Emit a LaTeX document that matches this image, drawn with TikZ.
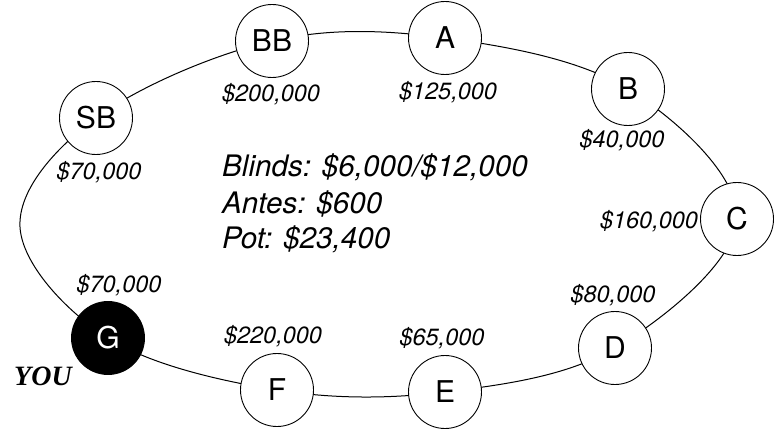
\documentclass[tikz,border=0pt]{standalone}
\usepackage{fontspec}
\setmainfont{TeX Gyre Heros}
\newfontfamily\timesfont{Liberation Serif}
\usetikzlibrary{backgrounds}
\begin{document}
\begin{tikzpicture}[x=1pt,y=-1pt,
  seat/.style={circle,draw,fill=white,minimum size=73pt,inner sep=0pt,line width=0.9pt,font=\fontsize{30}{30}\selectfont},
  youseat/.style={seat,fill=black,text=white},
  money/.style={anchor=base,inner sep=0pt,font=\fontsize{23.5}{24}\selectfont\itshape},
  info/.style={anchor=base west,inner sep=0pt,font=\fontsize{29.6}{30}\selectfont\itshape},
  youlabel/.style={anchor=base,inner sep=0pt,font=\fontsize{28}{30}\selectfont\timesfont\bfseries\itshape},
  ring/.style={line width=1pt}]
\useasboundingbox (0,0) rectangle (775,430);
% seats
\node[seat] (BB) at (272,41) {BB};
\node[seat] (A) at (445,38) {A};
\node[seat] (B) at (628,89) {B};
\node[seat] (C) at (737,219) {C};
\node[seat] (D) at (615,348) {D};
\node[seat] (E) at (445,392) {E};
\node[seat] (F) at (277,390) {F};
\node[youseat] (G) at (108,338) {G};
\node[seat] (SB) at (96,118) {SB};
\coordinate (L) at (20,227);
% ring
\begin{pgfonlayer}{background}
\draw[ring] plot[smooth cycle, tension=0.6] coordinates {(BB.center) (A.center) (B.center) (C.center) (D.center) (E.center) (F.center) (G.center) (L) (SB.center)};
\end{pgfonlayer}
% stacks
\node[money] (mBB) at (271,102) {\$200,000};
\node[money] (mA) at (448,100) {\$125,000};
\node[money] (mB) at (622,148) {\$40,000};
\node[money] (mC) at (649,228) {\$160,000};
\node[money] (mD) at (613,302) {\$80,000};
\node[money] (mE) at (442,345) {\$65,000};
\node[money] (mF) at (273,343) {\$220,000};
\node[money] (mG) at (119,292) {\$70,000};
\node[money] (mSB) at (99,180) {\$70,000};
% info
\node[info] (blinds) at (222,177) {Blinds: \$6,000/\$12,000};
\node[info] (antes) at (222,213) {Antes: \$600};
\node[info] (pot) at (222,248) {Pot: \$23,400};
\node[youlabel] (you) at (43,385) {YOU};
\end{tikzpicture}
\end{document}
